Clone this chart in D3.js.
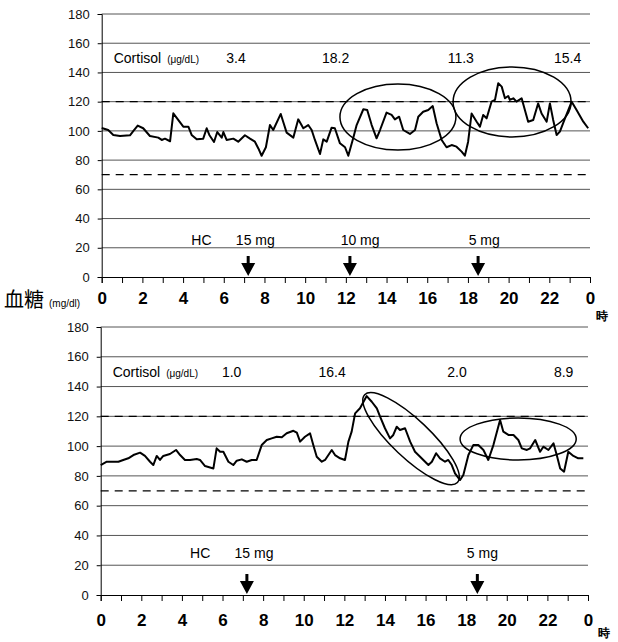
<!DOCTYPE html>
<html>
<head>
<meta charset="utf-8">
<script src="https://cdn.jsdelivr.net/npm/d3@7"></script>
<style>
  body { margin: 0; background: #fff; }
  text { font-family: "Liberation Sans", Arial, sans-serif; }
</style>
</head>
<body>
<div id="chart"></div>
<script>
// hours since midnight, blood glucose (mg/dl)
const topHours = [0,0.32,0.57,0.90,1.39,1.55,1.77,2.04,2.37,2.78,2.95,3.11,3.36,3.52,3.76,4.01,4.26,4.42,4.67,4.99,5.16,5.29,5.52,5.68,5.90,5.98,6.14,6.47,6.71,7.04,7.29,7.53,7.70,7.86,8.07,8.27,8.43,8.80,8.92,9.09,9.42,9.66,9.91,10.15,10.32,10.48,10.73,10.89,11.06,11.30,11.46,11.71,11.96,12.12,12.36,12.53,12.86,13.05,13.27,13.51,13.68,14.00,14.25,14.41,14.62,14.82,15.15,15.40,15.56,15.80,16.05,16.27,16.46,16.71,16.95,17.20,17.44,17.69,17.85,18.01,18.18,18.43,18.59,18.75,18.92,19.16,19.33,19.49,19.66,19.82,19.98,20.06,20.23,20.39,20.64,20.80,20.96,21.21,21.45,21.62,21.87,22.03,22.19,22.36,22.52,22.77,23.10,23.34,23.67,23.91];
const topGlucose = [102,100.6,97.2,96.5,97,99.9,103.6,101.8,96.5,95.4,93.8,94.7,92.9,112,107.5,102.9,102.9,97.2,94.2,94.7,101.8,97.2,92.4,99.2,95.4,99.2,93.8,94.7,92.6,97,94.7,92.6,88,83,88.8,104,100.6,111.6,106.3,98.8,95.4,107.9,101.8,104,100.6,93.8,84.2,94.2,92.6,102.2,101.8,91.5,88.8,83,94.9,104,114.8,114.3,104,94.9,100.6,112.5,110.9,107.9,109.7,100.6,97.9,100.6,109.7,113.1,114.3,117,105.2,93.8,88.8,90.3,89.2,85.8,83,92.6,111.9,106.3,102.9,110.9,108.6,120,121.2,132.6,130.3,122.3,123.9,121.2,122.3,120,122.3,114.3,106.3,107.5,118.8,111.9,106.3,118.8,107.5,97.2,99.5,108.6,120,114.3,106.3,101.8];

const bottomHours = [0,0.30,0.62,0.87,1.11,1.36,1.61,1.94,2.18,2.43,2.59,2.76,2.92,3.08,3.41,3.71,3.91,4.15,4.40,4.73,4.89,5.14,5.55,5.71,5.88,6.04,6.29,6.53,6.70,6.95,7.19,7.44,7.68,7.93,8.18,8.42,8.67,8.92,9.16,9.49,9.66,9.82,10.06,10.31,10.47,10.64,10.89,11.05,11.38,11.54,11.79,12.03,12.20,12.36,12.53,12.77,13.10,13.35,13.60,13.76,14.00,14.25,14.41,14.58,14.74,14.99,15.24,15.48,15.73,15.89,16.14,16.31,16.52,16.71,16.96,17.12,17.29,17.45,17.70,17.86,18.11,18.35,18.60,18.85,19.09,19.34,19.67,19.83,20.08,20.33,20.57,20.74,20.99,21.15,21.40,21.64,21.80,22.05,22.30,22.46,22.63,22.82,23.03,23.28,23.52,23.77];
const bottomGlucose = [87.3,89.5,89.5,89.5,90.7,91.8,94,95.6,93.4,89.5,87.3,93.4,90.7,93.4,94.7,97.4,94,90.7,90.7,91.3,90.7,86.6,85,98.5,96.2,96.2,89.5,87.3,90.2,91.1,89.5,90.7,90.7,100.7,104.1,105.2,106.3,105.9,108.6,110.3,109,103,106.3,108.6,100.7,92.9,89.5,90.7,97.4,94,91.8,90.7,103,109.7,122,125.4,133.6,129.8,125.4,119.8,112,105.2,107.5,113,110.8,112,103,96.2,92.9,90.7,87.3,89.5,95.2,91.8,89.5,90.7,87.3,81.7,77.2,80.6,94,100.7,100.7,97.4,90.7,100.7,117.5,109.7,107.5,107.5,104.1,98.5,97.4,98.5,104.1,96.2,99.6,97.4,101.9,94,85,82.8,96.2,93.4,91.8,91.8];

const yTicks = [0,20,40,60,80,100,120,140,160,180];
const xTicks = d3.range(0, 25);
const refLines = [120, 70];

const topCortisol = [["3.4", 6.6], ["18.2", 11.5], ["11.3", 17.65], ["15.4", 22.9]];
const bottomCortisol = [["1.0", 6.45], ["16.4", 11.4], ["2.0", 17.55], ["8.9", 22.8]];
const topDoses = [["15 mg", 7.2, 7.55], ["10 mg", 12.2, 12.7], ["5 mg", 18.5, 18.8]];
const bottomDoses = [["15 mg", 7.2, 7.55], ["5 mg", 18.55, 18.8]];

// ellipses: [h1, v1, h2, v2, half width px] end points of major axis
const topRings = [[11.71, 109.5, 17.41, 109.5, 33], [17.27, 119.8, 23.07, 119.8, 35]];
const bottomRings = [[13.0, 134.5, 17.57, 75.5, 19], [17.7, 104.8, 23.42, 104.8, 21]];

const W = 618, H = 642;
const svg = d3.select("#chart").append("svg").attr("width", W).attr("height", H);

function drawPanel(opt) {
  const x = d3.scaleLinear().domain([0, 24]).range(opt.xr);
  const y = d3.scaleLinear().domain([0, 180]).range(opt.yr);
  const g = svg.append("g");

  // grid
  g.selectAll(".grid").data(yTicks.filter(d => d > 0)).enter().append("line")
    .attr("x1", x(0)).attr("x2", x(24))
    .attr("y1", d => y(d)).attr("y2", d => y(d))
    .attr("stroke", "#555").attr("stroke-width", 1);

  g.selectAll(".ref").data(refLines).enter().append("line")
    .attr("x1", x(0)).attr("x2", x(24))
    .attr("y1", d => y(d)).attr("y2", d => y(d))
    .attr("stroke", "#000").attr("stroke-width", 1.3)
    .attr("stroke-dasharray", "8,6");

  // y axis
  const ya = g.append("g").attr("transform", `translate(${x(0)},0)`)
    .call(d3.axisLeft(y).tickValues(yTicks).tickSize(4).tickPadding(8));
  ya.select(".domain").attr("stroke", "#000");
  ya.selectAll("text").attr("font-size", 13).attr("fill", "#111");

  // x axis
  const xa = g.append("g").attr("transform", `translate(0,${y(0)})`)
    .call(d3.axisBottom(x).tickValues(xTicks).tickSize(6).tickPadding(opt.pad)
      .tickFormat(d => d % 2 === 0 ? String(d % 24) : ""));
  xa.select(".domain").attr("stroke", "#000");
  xa.selectAll("text").attr("font-size", 17).attr("font-weight", "bold").attr("fill", "#000");

  // curve
  const pts = opt.hours.map((h, i) => [h, opt.vals[i]]);
  g.append("path").datum(pts)
    .attr("d", d3.line().x(d => x(d[0])).y(d => y(d[1])))
    .attr("fill", "none").attr("stroke", "#000").attr("stroke-width", 2)
    .attr("stroke-linejoin", "round");

  // rings
  opt.rings.forEach(r => {
    const ax = x(r[0]), ay = y(r[1]), bx = x(r[2]), by = y(r[3]);
    const cx = (ax + bx) / 2, cy = (ay + by) / 2;
    const rx = Math.hypot(bx - ax, by - ay) / 2;
    const ang = Math.atan2(by - ay, bx - ax) * 180 / Math.PI;
    g.append("ellipse").attr("cx", 0).attr("cy", 0).attr("rx", rx).attr("ry", r[4])
      .attr("transform", `translate(${cx},${cy}) rotate(${ang})`)
      .attr("fill", "none").attr("stroke", "#000").attr("stroke-width", 1.5);
  });

  // cortisol
  const cy0 = y(150) + 5;
  const ct = g.append("text").attr("x", x(0) + 12).attr("y", cy0);
  ct.append("tspan").attr("font-size", 14).text("Cortisol");
  ct.append("tspan").attr("font-size", 10).attr("dx", 6).text("(μg/dL)");
  g.selectAll(".cv").data(opt.cortisol).enter().append("text")
    .attr("x", d => x(d[1])).attr("y", cy0)
    .attr("text-anchor", "middle").attr("font-size", 14).text(d => d[0]);

  // HC doses
  g.append("text").attr("x", x(4.9)).attr("y", opt.hcY)
    .attr("text-anchor", "middle").attr("font-size", 14).text("HC");
  g.selectAll(".dose").data(opt.doses).enter().append("text")
    .attr("x", d => x(d[2])).attr("y", opt.hcY)
    .attr("text-anchor", "middle").attr("font-size", 14).text(d => d[0]);
  const tip = y(0) - 1;
  g.selectAll(".arrow").data(opt.doses).enter().append("path")
    .attr("d", d => {
      const ax = x(d[1]);
      return `M${ax - 1.5},${tip - 20} L${ax + 1.5},${tip - 20} L${ax + 1.5},${tip - 13} L${ax + 7},${tip - 13} L${ax},${tip} L${ax - 7},${tip - 13} L${ax - 1.5},${tip - 13} Z`;
    })
    .attr("fill", "#000");

  g.append("text").attr("x", opt.jiX).attr("y", opt.jiY)
    .attr("font-family", "Noto Sans CJK JP").attr("font-weight", "bold")
    .attr("font-size", 12).text("時");
}

drawPanel({ xr: [101.7, 590], yr: [277, 14], pad: 9, hours: topHours, vals: topGlucose,
  rings: topRings, cortisol: topCortisol, doses: topDoses, hcY: 245, jiX: 596, jiY: 320 });
drawPanel({ xr: [100.7, 588], yr: [595, 327], pad: 13, hours: bottomHours, vals: bottomGlucose,
  rings: bottomRings, cortisol: bottomCortisol, doses: bottomDoses, hcY: 558, jiX: 598, jiY: 637 });

// shared y label
const lab = svg.append("text").attr("x", 4).attr("y", 307);
lab.append("tspan").attr("font-family", "Noto Sans CJK JP").attr("font-size", 20).text("血糖");
lab.append("tspan").attr("font-size", 10).attr("dx", 5).text("(mg/dl)");
</script>
</body>
</html>
